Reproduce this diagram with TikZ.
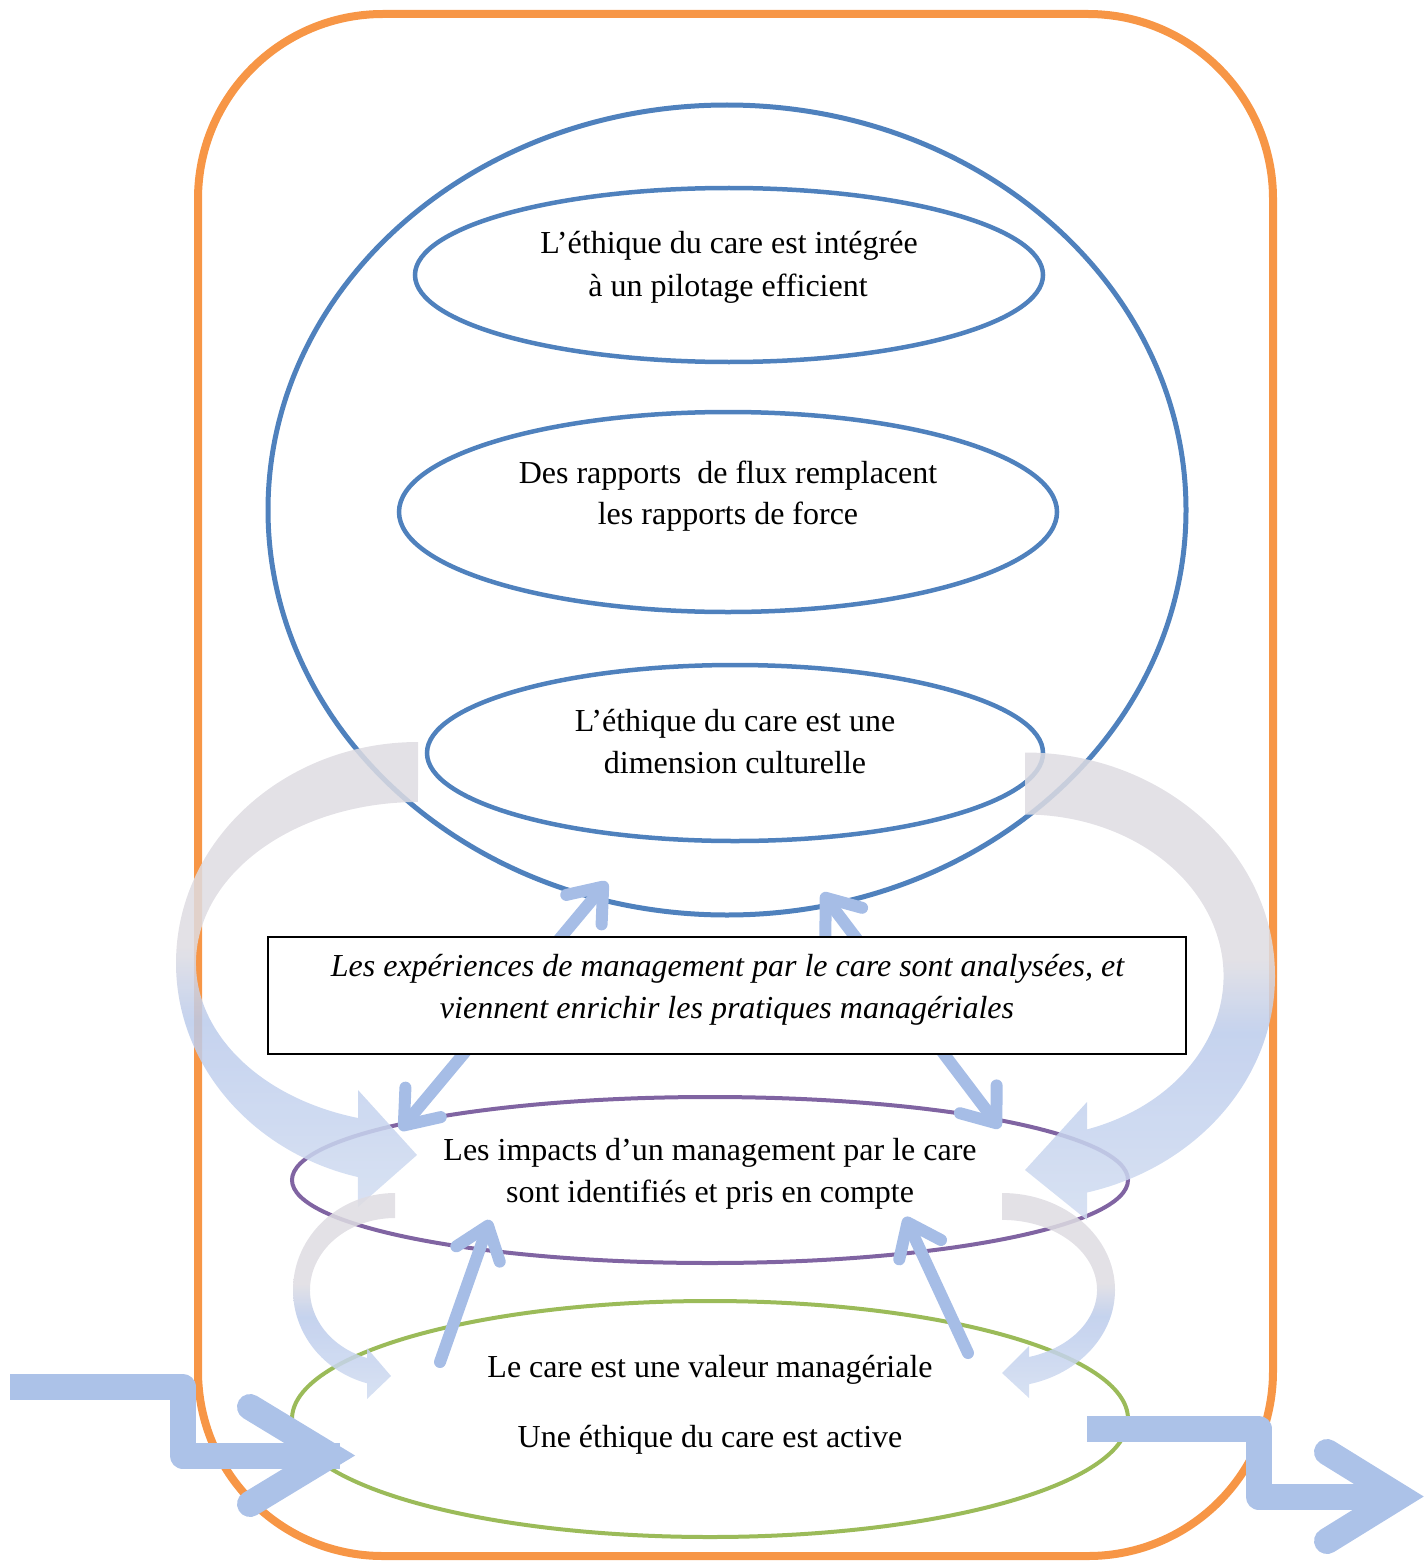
\documentclass[tikz,border=0pt]{standalone}
\usepackage{fontspec}
\setmainfont{Liberation Serif}
\usetikzlibrary{shapes.geometric,arrows.meta}
\definecolor{frameorange}{HTML}{F79646}
\definecolor{ringblue}{HTML}{4F81BD}
\definecolor{impactpurple}{HTML}{8064A2}
\definecolor{valuegreen}{HTML}{9BBB59}
\definecolor{flowblue}{RGB}{166,189,230}
\definecolor{pathblue}{RGB}{172,194,232}
\definecolor{bandgray}{RGB}{222,220,226}
\definecolor{bandblue}{RGB}{187,203,235}
\definecolor{bandlight}{RGB}{209,220,241}
% grey at the top of a curved band, blue towards its arrow head
\pgfdeclareverticalshading{bandshade}{100bp}{color(0bp)=(bandlight); color(25bp)=(bandlight); color(45bp)=(bandblue); color(53bp)=(bandgray); color(100bp)=(bandgray)}

\begin{document}
\begin{tikzpicture}[x=1pt,y=-1pt,
  txt/.style={font=\fontsize{32pt}{42pt}\selectfont, anchor=base, inner sep=0pt},
  itxt/.style={font=\fontsize{32pt}{42pt}\selectfont\itshape, anchor=base, inner sep=0pt},
  oval/.style={ellipse, inner sep=0pt},
  band/.style={shading=bandshade, opacity=0.85},
  flow/.style={line width=12pt, draw=flowblue, line cap=round},
  bigflow/.style={line width=26pt, draw=pathblue},
  >={Straight Barb[length=30pt,width=46pt,round]}]
\useasboundingbox (0,0) rectangle (1424,1562);

% outer frame
\draw[frameorange, line width=8pt, rounded corners=185pt] (198,14) rectangle (1273,1556);

% culture circle and its three ellipses
\node[oval, draw=ringblue, line width=5pt, minimum width=918pt, minimum height=810pt] (ring) at (727,510) {};
\node[oval, draw=ringblue, line width=4.5pt, minimum width=628pt, minimum height=174pt] (pilot) at (729,275) {};
\node[oval, draw=ringblue, line width=4.5pt, minimum width=658pt, minimum height=200pt] (flux) at (728,512) {};
\node[oval, draw=ringblue, line width=4.5pt, minimum width=616pt, minimum height=176pt] (culture) at (735,753) {};

\node[txt] (pilotA) at (729,254) {L’éthique du care est intégrée};
\node[txt] (pilotB) at (728,296) {à un pilotage efficient};
\node[txt] (fluxA) at (728,483) {Des rapports~ de flux remplacent};
\node[txt] (fluxB) at (728,524) {les rapports de force};
\node[txt] (cultA) at (735,731) {L’éthique du care est une};
\node[txt] (cultB) at (735,773) {dimension culturelle};

% impacts and values ellipses
\node[oval, draw=impactpurple, line width=4pt, minimum width=836pt, minimum height=166pt] (impact) at (710,1180) {};
\node[oval, draw=valuegreen, line width=4pt, minimum width=836pt, minimum height=236pt] (value) at (710,1419) {};

% large curved feedback arrows
\shade[band] (418,742) arc[start angle=270, end angle=104.4, x radius=242, y radius=221]
  -- (358,1207) -- (417,1155) -- (358,1090) -- (358,1118)
  arc[start angle=105.68, end angle=270, x radius=222, y radius=161] -- cycle;
\shade[band] (1025,752.5) arc[start angle=270, end angle=435.64, x radius=250, y radius=223.5]
  -- (1087,1220) -- (1025,1170) -- (1087,1102) -- (1087,1129.4)
  arc[start angle=431.8, end angle=270, x radius=198.5, y radius=161.5] -- cycle;

% small curved arrows between values and impacts
\shade[band] (395,1193) arc[start angle=270, end angle=105.93, x radius=102, y radius=97]
  -- (367,1399) -- (391,1376) -- (367,1348) -- (367,1358)
  arc[start angle=109.23, end angle=270, x radius=85, y radius=72] -- cycle;
\shade[band] (1002,1193) arc[start angle=270, end angle=436.17, x radius=113, y radius=97]
  -- (1029,1398) -- (1002,1373) -- (1029,1346) -- (1029,1357)
  arc[start angle=433.49, end angle=270, x radius=95, y radius=70] -- cycle;

% exchanges between the analysis box, the circle and the impacts
\coordinate (lowL) at (400,1130);
\coordinate (upL) at (607,882);
\coordinate (upR) at (822,893);
\coordinate (lowR) at (1000,1128);
\draw[flow, <->] (lowL) -- (upL);
\draw[flow, <->] (upR) -- (lowR);

\node[draw=black, line width=1.2pt, fill=white, minimum width=918pt, minimum height=117pt, inner sep=0pt] (analysis) at (727,995.5) {};
\node[itxt] (anaA) at (727.5,976) {Les expériences de management par le care sont analysées, et};
\node[itxt] (anaB) at (727,1018) {viennent enrichir les pratiques managériales};

\node[txt] (impA) at (710,1160) {Les impacts d’un management par le care};
\node[txt] (impB) at (710,1202) {sont identifiés et pris en compte};
\node[txt] (valA) at (710,1377) {Le care est une valeur managériale};
\node[txt] (valB) at (710,1447) {Une éthique du care est active};

% values feed the impacts
\coordinate (riseLs) at (440,1362);
\coordinate (riseLe) at (490,1220);
\coordinate (riseRs) at (968,1353);
\coordinate (riseRe) at (905,1217);
\draw[flow, ->] (riseLs) -- (riseLe);
\draw[flow, ->] (riseRs) -- (riseRe);

% entry and exit arrows
\coordinate (inStart) at (10,1386.5);
\coordinate (inBend) at (182.5,1455.5);
\coordinate (inEnd) at (340,1455.5);
\coordinate (inBarbU) at (250,1407);
\coordinate (inTip) at (330,1455.5);
\coordinate (inBarbD) at (250,1504);
\draw[bigflow, line join=round] (inStart) -| (inBend) -- (inEnd);
\draw[bigflow, line cap=round, line join=miter] (inBarbU) -- (inTip) -- (inBarbD);

\coordinate (outStart) at (1087,1428.5);
\coordinate (outBend) at (1258.5,1496.5);
\coordinate (outEnd) at (1395,1496.5);
\coordinate (outBarbU) at (1327,1452);
\coordinate (outTip) at (1399,1496.5);
\coordinate (outBarbD) at (1327,1541);
\draw[bigflow, line join=round] (outStart) -| (outBend) -- (outEnd);
\draw[bigflow, line cap=round, line join=miter] (outBarbU) -- (outTip) -- (outBarbD);
\end{tikzpicture}
\end{document}
